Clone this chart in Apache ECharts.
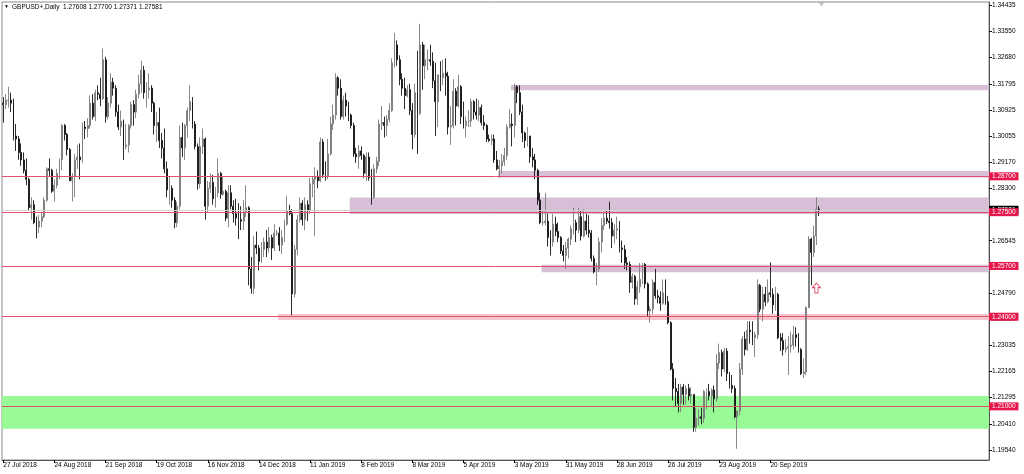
<!DOCTYPE html>
<html><head><meta charset="utf-8">
<script src="https://cdn.jsdelivr.net/npm/echarts@6/dist/echarts.min.js"></script>
<style>html,body{margin:0;padding:0;background:#fff}#c{width:1024px;height:474px}</style>
</head><body><div id="c"></div><script>
const symbolName = 'GBPUSD+,Daily';
const firstDate = [2018, 6, 27];          // 27 Jul 2018, first bar
const totalSlots = 386;                   // bars + empty space on the right
// daily OHLC, one value per trading day
const open = [
1.3115,1.3110,1.3125,1.3125,1.3115,1.3005,1.2995,1.2950,1.2925,1.2890,
1.2860,1.2765,1.2775,1.2715,1.2700,1.2720,1.2735,1.2790,1.2895,1.2890,
1.2820,1.2840,1.2880,1.2925,1.3040,1.3010,1.2960,1.2855,1.2870,1.2925,
1.2935,1.2925,1.3035,1.3030,1.3040,1.3115,1.3070,1.3150,1.3145,1.3130,
1.3260,1.3070,1.3115,1.3185,1.3165,1.3085,1.3035,1.3055,1.2970,1.2975,
1.3040,1.3110,1.3085,1.3145,1.3180,1.3225,1.3150,1.3160,1.3165,1.3115,
1.3040,1.3050,1.2990,1.2965,1.2895,1.2825,1.2830,1.2790,1.2715,1.2770,
1.3000,1.2965,1.3040,1.3090,1.3120,1.3045,1.2970,1.2845,1.2970,1.2995,
1.2770,1.2830,1.2850,1.2795,1.2815,1.2880,1.2810,1.2820,1.2730,1.2815,
1.2770,1.2745,1.2730,1.2725,1.2720,1.2750,1.2765,1.2560,1.2495,1.2640,
1.2630,1.2585,1.2625,1.2650,1.2630,1.2665,1.2630,1.2680,1.2680,1.2640,
1.2665,1.2710,1.2755,1.2745,1.2476,1.2625,1.2725,1.2780,1.2725,1.2775,
1.2755,1.2845,1.2860,1.2870,1.2855,1.2985,1.2875,1.2870,1.2945,1.3045,
1.3075,1.3200,1.3165,1.3070,1.3125,1.3105,1.3075,1.3040,1.2945,1.2935,
1.2955,1.2940,1.2880,1.2935,1.2865,1.2800,1.2895,1.2920,1.3045,1.3050,
1.3040,1.3060,1.3090,1.3250,1.3310,1.3260,1.3195,1.3165,1.3140,1.3160,
1.3090,1.3010,1.3150,1.3080,1.3310,1.3240,1.3260,1.3260,1.3255,1.3190,
1.3120,1.3210,1.3200,1.3215,1.3205,1.3035,1.3040,1.3155,1.3105,1.3170,
1.3070,1.3040,1.3055,1.3055,1.3120,1.3085,1.3075,1.3100,1.3050,1.3040,
1.2995,1.2990,1.2995,1.2925,1.2895,1.2905,1.2920,1.2940,1.3035,1.3045,
1.3040,1.3170,1.3150,1.3085,1.3015,1.2990,1.3005,1.2935,1.2925,1.2890,
1.2790,1.2715,1.2715,1.2720,1.2665,1.2650,1.2710,1.2685,1.2665,1.2620,
1.2605,1.2630,1.2660,1.2695,1.2715,1.2690,1.2735,1.2670,1.2720,1.2690,
1.2680,1.2595,1.2550,1.2560,1.2650,1.2705,1.2730,1.2720,1.2715,1.2670,
1.2690,1.2695,1.2630,1.2625,1.2580,1.2575,1.2515,1.2535,1.2460,1.2500,
1.2525,1.2575,1.2510,1.2420,1.2425,1.2515,1.2470,1.2465,1.2445,1.2480,
1.2450,1.2380,1.2225,1.2160,1.2150,1.2110,1.2165,1.2140,1.2160,1.2135,
1.2140,1.2030,1.2060,1.2065,1.2060,1.2150,1.2150,1.2135,1.2155,1.2125,
1.2245,1.2280,1.2225,1.2285,1.2210,1.2170,1.2160,1.2065,1.2085,1.2225,
1.2325,1.2290,1.2355,1.2350,1.2330,1.2340,1.2505,1.2425,1.2475,1.2450,
1.2480,1.2475,1.2440,1.2475,1.2330,1.2320,1.2290,1.2295,1.2300,1.2305,
1.2340,1.2330,1.2290,1.2210,1.2215,1.2430,1.2660,1.2615,1.2670,1.27608];
const high = [
1.3135,1.3145,1.3170,1.3150,1.3130,1.3045,1.3005,1.2980,1.2950,1.2930,
1.2865,1.2800,1.2790,1.2735,1.2740,1.2750,1.2800,1.2900,1.2930,1.2895,
1.2860,1.2895,1.2930,1.3045,1.3045,1.3015,1.2965,1.2880,1.2945,1.2975,
1.2980,1.3050,1.3055,1.3065,1.3140,1.3145,1.3160,1.3175,1.3200,1.3298,
1.3270,1.3135,1.3215,1.3200,1.3175,1.3110,1.3090,1.3060,1.3045,1.3045,
1.3120,1.3125,1.3160,1.3210,1.3257,1.3240,1.3185,1.3215,1.3175,1.3120,
1.3085,1.3100,1.3015,1.3030,1.2920,1.2870,1.2840,1.2800,1.2785,1.3040,
1.3050,1.3045,1.3100,1.3175,1.3135,1.3055,1.2980,1.3000,1.3030,1.3000,
1.2855,1.2880,1.2875,1.2835,1.2930,1.2885,1.2870,1.2825,1.2840,1.2840,
1.2790,1.2795,1.2780,1.2770,1.2790,1.2840,1.2770,1.2600,1.2670,1.2685,
1.2640,1.2650,1.2665,1.2690,1.2700,1.2675,1.2710,1.2690,1.2700,1.2690,
1.2725,1.2805,1.2775,1.2760,1.2640,1.2740,1.2800,1.2790,1.2800,1.2790,
1.2865,1.2870,1.2900,1.2890,1.3000,1.2995,1.2920,1.2995,1.3070,1.3110,
1.3215,1.3205,1.3195,1.3140,1.3150,1.3120,1.3080,1.3050,1.2965,1.2975,
1.2970,1.2945,1.2950,1.2950,1.2895,1.2910,1.2935,1.3060,1.3105,1.3070,
1.3075,1.3115,1.3265,1.3350,1.3325,1.3275,1.3215,1.3200,1.3175,1.3180,
1.3115,1.3180,1.3290,1.3380,1.3320,1.3310,1.3295,1.3310,1.3285,1.3250,
1.3210,1.3255,1.3260,1.3265,1.3220,1.3105,1.3195,1.3165,1.3210,1.3175,
1.3120,1.3070,1.3090,1.3130,1.3125,1.3130,1.3125,1.3110,1.3075,1.3045,
1.3010,1.3010,1.3010,1.2955,1.2925,1.2945,1.2965,1.3045,1.3095,1.3080,
1.3180,1.3175,1.3175,1.3110,1.3020,1.3035,1.3005,1.2965,1.2945,1.2895,
1.2815,1.2755,1.2815,1.2745,1.2690,1.2745,1.2735,1.2715,1.2670,1.2640,
1.2650,1.2665,1.2705,1.2765,1.2725,1.2765,1.2755,1.2760,1.2745,1.2740,
1.2690,1.2605,1.2580,1.2665,1.2730,1.2750,1.2755,1.2785,1.2730,1.2710,
1.2735,1.2720,1.2655,1.2640,1.2600,1.2585,1.2545,1.2540,1.2520,1.2580,
1.2580,1.2580,1.2515,1.2435,1.2525,1.2560,1.2490,1.2485,1.2525,1.2525,
1.2470,1.2385,1.2245,1.2195,1.2175,1.2175,1.2175,1.2170,1.2175,1.2165,
1.2140,1.2095,1.2090,1.2095,1.2155,1.2160,1.2175,1.2160,1.2170,1.2275,
1.2310,1.2290,1.2295,1.2295,1.2215,1.2205,1.2170,1.2085,1.2245,1.2335,
1.2350,1.2385,1.2385,1.2385,1.2350,1.2525,1.2510,1.2500,1.2500,1.2525,
1.2582,1.2495,1.2500,1.2480,1.2345,1.2345,1.2325,1.2335,1.2350,1.2370,
1.2365,1.2345,1.2295,1.2260,1.2435,1.2670,1.2665,1.2705,1.2800,1.27700];
const low = [
1.3050,1.3095,1.3100,1.3085,1.2990,1.2955,1.2925,1.2905,1.2880,1.2840,
1.2755,1.2725,1.2710,1.2662,1.2680,1.2700,1.2730,1.2785,1.2870,1.2815,
1.2785,1.2830,1.2860,1.2890,1.2990,1.2940,1.2855,1.2786,1.2800,1.2895,
1.2860,1.2915,1.2995,1.3000,1.3030,1.3060,1.3055,1.3125,1.3105,1.3125,
1.3050,1.3060,1.3100,1.3140,1.3070,1.3025,1.3005,1.2925,1.2960,1.2950,
1.3030,1.3040,1.3065,1.3130,1.3150,1.3130,1.3100,1.3130,1.3085,1.3010,
1.2985,1.2965,1.2930,1.2880,1.2800,1.2775,1.2765,1.2696,1.2700,1.2760,
1.2935,1.2925,1.3000,1.3055,1.3030,1.2960,1.2825,1.2830,1.2945,1.2725,
1.2750,1.2815,1.2775,1.2765,1.2800,1.2795,1.2805,1.2720,1.2700,1.2760,
1.2715,1.2705,1.2660,1.2690,1.2690,1.2735,1.2505,1.2477,1.2475,1.2610,
1.2555,1.2580,1.2600,1.2600,1.2615,1.2590,1.2620,1.2670,1.2620,1.2610,
1.2650,1.2705,1.2740,1.2405,1.2465,1.2605,1.2715,1.2705,1.2690,1.2720,
1.2745,1.2800,1.2670,1.2830,1.2850,1.2865,1.2855,1.2860,1.2940,1.3025,
1.3060,1.3140,1.3060,1.3060,1.3070,1.3055,1.3030,1.2935,1.2915,1.2895,
1.2925,1.2865,1.2855,1.2855,1.2775,1.2795,1.2880,1.2905,1.3025,1.3000,
1.3005,1.3050,1.3085,1.3235,1.3240,1.3175,1.3140,1.3095,1.3135,1.3075,
1.2960,1.3000,1.2945,1.3075,1.3160,1.3195,1.3225,1.3240,1.3165,1.3005,
1.3035,1.3155,1.3175,1.3140,1.3010,1.2975,1.3030,1.3040,1.3100,1.3045,
1.3030,1.3000,1.3035,1.3035,1.3060,1.3060,1.3055,1.3040,1.3025,1.2985,
1.2985,1.2975,1.2915,1.2890,1.2865,1.2880,1.2905,1.2925,1.3030,1.2970,
1.3000,1.3115,1.3075,1.2985,1.2965,1.2970,1.2915,1.2900,1.2860,1.2775,
1.2710,1.2705,1.2705,1.2635,1.2605,1.2635,1.2670,1.2650,1.2610,1.2585,
1.2560,1.2595,1.2640,1.2675,1.2650,1.2680,1.2655,1.2665,1.2675,1.2665,
1.2585,1.2545,1.2505,1.2550,1.2615,1.2690,1.2710,1.2695,1.2630,1.2645,
1.2660,1.2615,1.2580,1.2560,1.2555,1.2480,1.2495,1.2440,1.2440,1.2480,
1.2510,1.2495,1.2400,1.2380,1.2410,1.2460,1.2445,1.2420,1.2440,1.2440,
1.2375,1.2220,1.2120,1.2100,1.2080,1.2080,1.2105,1.2105,1.2120,1.2110,
1.2015,1.2015,1.2035,1.2040,1.2045,1.2090,1.2120,1.2100,1.2080,1.2115,
1.2225,1.2200,1.2215,1.2185,1.2160,1.2145,1.2060,1.1958,1.2070,1.2205,
1.2270,1.2285,1.2310,1.2305,1.2265,1.2325,1.2415,1.2385,1.2435,1.2445,
1.2465,1.2410,1.2420,1.2325,1.2285,1.2270,1.2280,1.2205,1.2280,1.2290,
1.2300,1.2280,1.2205,1.2195,1.2205,1.2430,1.2505,1.2600,1.2640,1.27371];
const close = [
1.3110,1.3125,1.3125,1.3115,1.3005,1.2995,1.2950,1.2925,1.2890,1.2860,
1.2765,1.2775,1.2715,1.2700,1.2720,1.2735,1.2790,1.2895,1.2890,1.2820,
1.2840,1.2880,1.2925,1.3040,1.3010,1.2960,1.2855,1.2870,1.2925,1.2935,
1.2925,1.3035,1.3030,1.3040,1.3115,1.3070,1.3150,1.3145,1.3130,1.3260,
1.3070,1.3115,1.3185,1.3165,1.3085,1.3035,1.3055,1.2970,1.2975,1.3040,
1.3110,1.3085,1.3145,1.3180,1.3225,1.3150,1.3160,1.3165,1.3115,1.3040,
1.3050,1.2990,1.2965,1.2895,1.2825,1.2830,1.2790,1.2715,1.2770,1.3000,
1.2965,1.3040,1.3090,1.3120,1.3045,1.2970,1.2845,1.2970,1.2995,1.2770,
1.2830,1.2850,1.2795,1.2815,1.2880,1.2810,1.2820,1.2730,1.2815,1.2770,
1.2745,1.2730,1.2725,1.2720,1.2750,1.2765,1.2560,1.2495,1.2640,1.2630,
1.2585,1.2625,1.2650,1.2630,1.2665,1.2630,1.2680,1.2680,1.2640,1.2665,
1.2710,1.2755,1.2745,1.2476,1.2625,1.2725,1.2780,1.2725,1.2775,1.2755,
1.2845,1.2860,1.2870,1.2855,1.2985,1.2875,1.2870,1.2945,1.3045,1.3075,
1.3200,1.3165,1.3070,1.3125,1.3105,1.3075,1.3040,1.2945,1.2935,1.2955,
1.2940,1.2880,1.2935,1.2865,1.2800,1.2895,1.2920,1.3045,1.3050,1.3040,
1.3060,1.3090,1.3250,1.3310,1.3260,1.3195,1.3165,1.3140,1.3160,1.3090,
1.3010,1.3150,1.3080,1.3310,1.3240,1.3260,1.3260,1.3255,1.3190,1.3120,
1.3210,1.3200,1.3215,1.3205,1.3035,1.3040,1.3155,1.3105,1.3170,1.3070,
1.3040,1.3055,1.3055,1.3120,1.3085,1.3075,1.3100,1.3050,1.3040,1.2995,
1.2990,1.2995,1.2925,1.2895,1.2905,1.2920,1.2940,1.3035,1.3045,1.3040,
1.3170,1.3150,1.3085,1.3015,1.2990,1.3005,1.2935,1.2925,1.2890,1.2790,
1.2715,1.2715,1.2720,1.2665,1.2650,1.2710,1.2685,1.2665,1.2620,1.2605,
1.2630,1.2660,1.2695,1.2715,1.2690,1.2735,1.2670,1.2720,1.2690,1.2680,
1.2595,1.2550,1.2560,1.2650,1.2705,1.2730,1.2720,1.2715,1.2670,1.2690,
1.2695,1.2630,1.2625,1.2580,1.2575,1.2515,1.2535,1.2460,1.2500,1.2525,
1.2575,1.2510,1.2420,1.2425,1.2515,1.2470,1.2465,1.2445,1.2480,1.2450,
1.2380,1.2225,1.2160,1.2150,1.2110,1.2165,1.2140,1.2160,1.2135,1.2140,
1.2030,1.2060,1.2065,1.2060,1.2150,1.2150,1.2135,1.2155,1.2125,1.2245,
1.2280,1.2225,1.2285,1.2210,1.2170,1.2160,1.2065,1.2085,1.2225,1.2325,
1.2290,1.2355,1.2350,1.2330,1.2340,1.2505,1.2425,1.2475,1.2450,1.2480,
1.2475,1.2440,1.2475,1.2330,1.2320,1.2290,1.2295,1.2300,1.2305,1.2340,
1.2330,1.2290,1.2210,1.2215,1.2430,1.2660,1.2615,1.2670,1.2760,1.27581];
// price axis
const yMin = 1.19205, yMax = 1.34535;
const yTickValues = [1.34435,1.33550,1.32680,1.31795,1.30925,1.30055,1.29170,1.28300,1.27430,
                     1.26545,1.25675,1.24790,1.23920,1.23035,1.22165,1.21295,1.20410,1.19540];
// horizontal levels and bid
const levelPrices = [1.28700, 1.27500, 1.25700, 1.24000, 1.21000];
const bidPrice = 1.27581;
// zones: starting bar (null = left edge), top, bottom
const zoneStart  = [199, 194, 136, 211, 108, null];
const zoneTop    = [1.3176, 1.2888, 1.2799, 1.2574, 1.2409, 1.2135];
const zoneBottom = [1.3158, 1.2866, 1.2744, 1.2549, 1.2389, 1.2025];
const zoneColors = ['#d8bfd8', '#d8bfd8', '#d8bfd8', '#d8bfd8', '#f9c6d0', '#98fb98'];
// arrow marker (bar index, price)
const arrowPoint = [318, 1.2496];

const FONT = 'Liberation Sans, Arial, sans-serif';
const months = ['Jan','Feb','Mar','Apr','May','Jun','Jul','Aug','Sep','Oct','Nov','Dec'];
const cats = [];
{
  const d = new Date(Date.UTC(firstDate[0], firstDate[1], firstDate[2]));
  while (cats.length < totalSlots) {
    const wd = d.getUTCDay();
    if (wd !== 0 && wd !== 6) cats.push(d.getUTCDate() + ' ' + months[d.getUTCMonth()] + ' ' + d.getUTCFullYear());
    d.setUTCDate(d.getUTCDate() + 1);
  }
}
const nBars = close.length;
const candles = close.map((c, i) => [open[i], c, low[i], high[i]]);
const last = nBars - 1;

const chart = echarts.init(document.getElementById('c'), null, {renderer: 'canvas'});
const lineLabel = (bg) => ({show: true, position: 'end', distance: 0, formatter: p => Number(p.value).toFixed(5),
  color: '#fff', backgroundColor: bg, fontSize: 6.5, fontFamily: FONT, padding: [1, 3, 0, 3], lineHeight: 7});

chart.setOption({
  animation: false,
  backgroundColor: '#fff',
  grid: {left: 2, right: 35, top: 2, bottom: 14, show: true, borderColor: '#8a8a8a', borderWidth: 1, backgroundColor: '#fff'},
  graphic: [
    {type: 'text', left: 4, top: 4, style: {text: '▼', font: '5px ' + FONT, fill: '#000'}},
    {type: 'text', left: 12, top: 4, style: {text: symbolName + '  ' + [open[last], high[last], low[last], close[last]].map(v => v.toFixed(5)).join(' '),
      font: '6.5px ' + FONT, fill: '#000'}}
  ],
  xAxis: {
    type: 'category', data: cats, boundaryGap: true,
    axisLine: {show: true, lineStyle: {color: '#555'}},
    axisTick: {show: true, alignWithLabel: true, length: 3, interval: (i) => i % 20 === 0 && i <= last, lineStyle: {color: '#000'}},
    axisLabel: {interval: (i) => i % 20 === 0 && i <= last, align: 'left', margin: 2, fontSize: 6.5, fontFamily: FONT, color: '#000'},
    splitLine: {show: false}
  },
  yAxis: {
    type: 'value', position: 'right', min: yMin, max: yMax,
    axisLine: {show: true, lineStyle: {color: '#555'}},
    splitLine: {show: false},
    axisTick: {show: true, length: 3, customValues: yTickValues, lineStyle: {color: '#000'}},
    axisLabel: {customValues: yTickValues, formatter: v => v.toFixed(5), margin: 3, fontSize: 6.5, fontFamily: FONT, color: '#000'}
  },
  series: [
    {
      type: 'custom', z: 1, silent: true, clip: false,
      data: zoneTop.map((t, i) => [zoneStart[i] == null ? 0 : zoneStart[i], t, zoneBottom[i]]),
      encode: {x: 0, y: [1, 2]},
      renderItem: (params, api) => {
        const i = params.dataIndex;
        const cs = params.coordSys;
        const a = api.coord([zoneStart[i] == null ? 0 : zoneStart[i], zoneTop[i]]);
        const b = api.coord([0, zoneBottom[i]]);
        const x0 = zoneStart[i] == null ? cs.x : a[0] - 1.3;
        return {type: 'rect', shape: {x: x0, y: a[1], width: cs.x + cs.width - x0, height: b[1] - a[1]}, style: {fill: zoneColors[i]}};
      }
    },
    {
      type: 'candlestick', z: 3, data: candles, barWidth: 1.4,
      itemStyle: {color: '#7c7c7c', color0: '#141414', borderColor: '#7c7c7c', borderColor0: '#141414', borderWidth: 0.9},
      markLine: {
        silent: true, symbol: ['none', 'none'], animation: false, precision: 5,
        data: [
          {yAxis: bidPrice, lineStyle: {color: '#d2d2d2', width: 1, type: 'solid'}, label: lineLabel('#000')},
          ...levelPrices.map(p => ({yAxis: p, lineStyle: {color: '#e0506e', width: 1, type: 'solid'}, label: lineLabel('#e3174a')}))
        ]
      }
    },
    {
      type: 'scatter', z: 4, silent: true, data: [arrowPoint],
      symbol: 'path://M5,0 L10,5 L7,5 L7,11 L3,11 L3,5 L0,5 Z', symbolSize: [8, 10],
      itemStyle: {color: '#fff', borderColor: '#e0506e', borderWidth: 1, opacity: 1}
    },
    {
      type: 'scatter', z: 4, silent: true, clip: false, data: [[last + 1, yMax]],
      symbol: 'triangle', symbolRotate: 180, symbolSize: [7, 5], symbolOffset: [0, 2],
      itemStyle: {color: '#b4b4b4'}
    }
  ]
});
</script></body></html>
